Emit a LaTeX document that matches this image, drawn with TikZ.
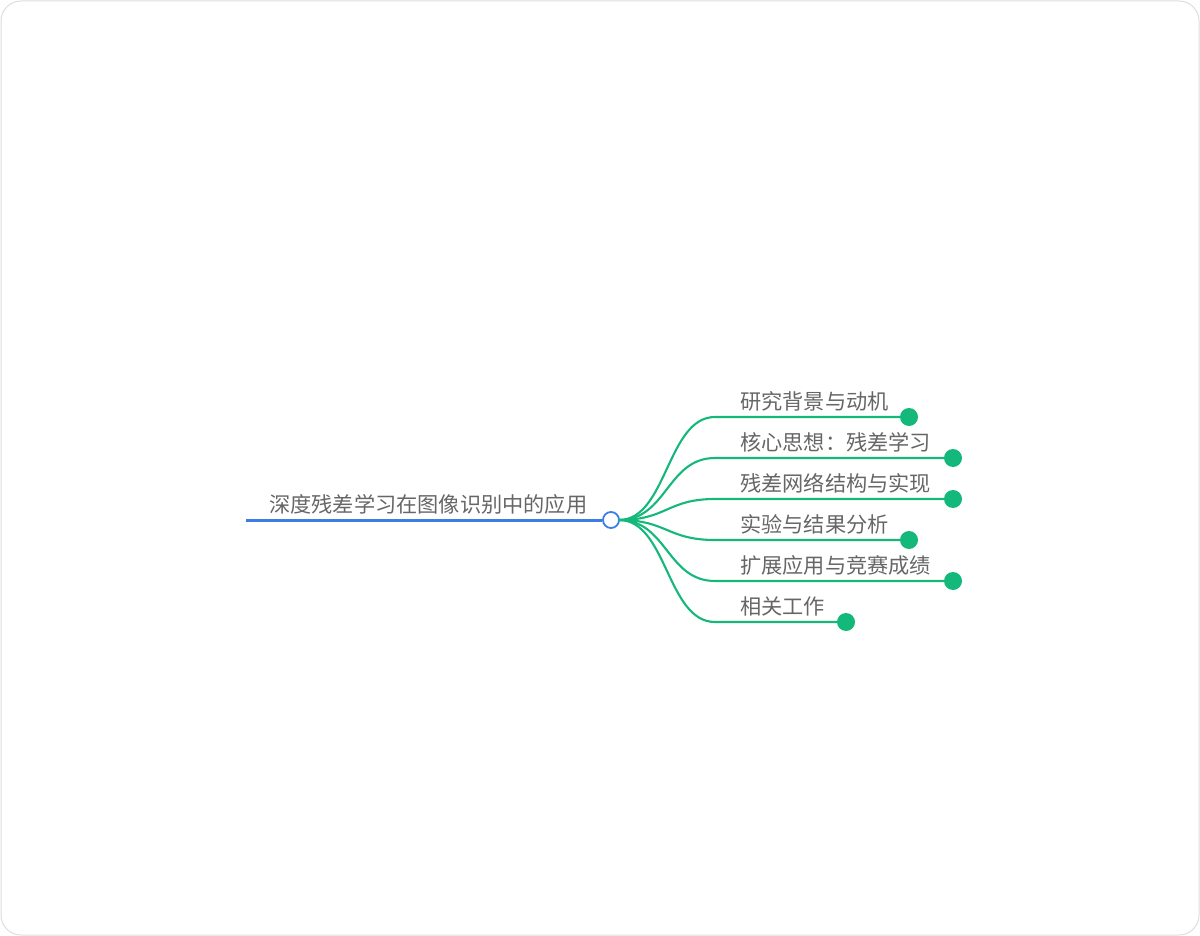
\documentclass[tikz,border=0pt]{standalone}
\usepackage{fontspec}
\newfontfamily\cjk{Noto Sans CJK SC}
\definecolor{framegray}{HTML}{DDDDDD}
\definecolor{rootblue}{HTML}{3C7EE6}
\definecolor{branchgreen}{HTML}{14B87A}
\definecolor{textgray}{HTML}{666666}
\begin{document}
\begin{tikzpicture}[x=1pt,y=-1pt,
  lbl/.style={anchor=base west,inner sep=0pt,text=textgray,font=\cjk\fontsize{21.2}{24}\selectfont},
  branch/.style={draw=branchgreen,line width=2.1pt},
  enddot/.style={circle,fill=branchgreen,minimum size=18pt,inner sep=0pt},
  hub/.style={circle,draw=rootblue,fill=white,line width=1.8pt,minimum size=16pt,inner sep=0pt}]
\useasboundingbox (0,0) rectangle (1200,936);
\draw[framegray,line width=1pt,rounded corners=20pt] (1,1) rectangle (1199,935);
% root
\coordinate (rs) at (246,520);
\node[hub] (hub) at (611,520) {};
\draw[rootblue,line width=3pt] (rs) -- (hub.west);
\node[lbl] (root) at (269,512) {深度残差学习在图像识别中的应用};
\coordinate (fan) at (619,520);
% branches
\foreach \i/\y/\xe/\t in {1/417/909/研究背景与动机,2/458/953/核心思想：残差学习,3/499/953/残差网络结构与实现,4/540/909/实验与结果分析,5/581/953/扩展应用与竞赛成绩,6/622/846/相关工作}{
  \coordinate (k\i) at (715,\y);
  \node[enddot] (d\i) at (\xe,\y) {};
  \draw[branch] (fan) .. controls (667,520) and (667,\y) .. (k\i) -- (d\i.center);
  \node[lbl] (t\i) at (740,\y-8) {\t};
}
\end{tikzpicture}
\end{document}
